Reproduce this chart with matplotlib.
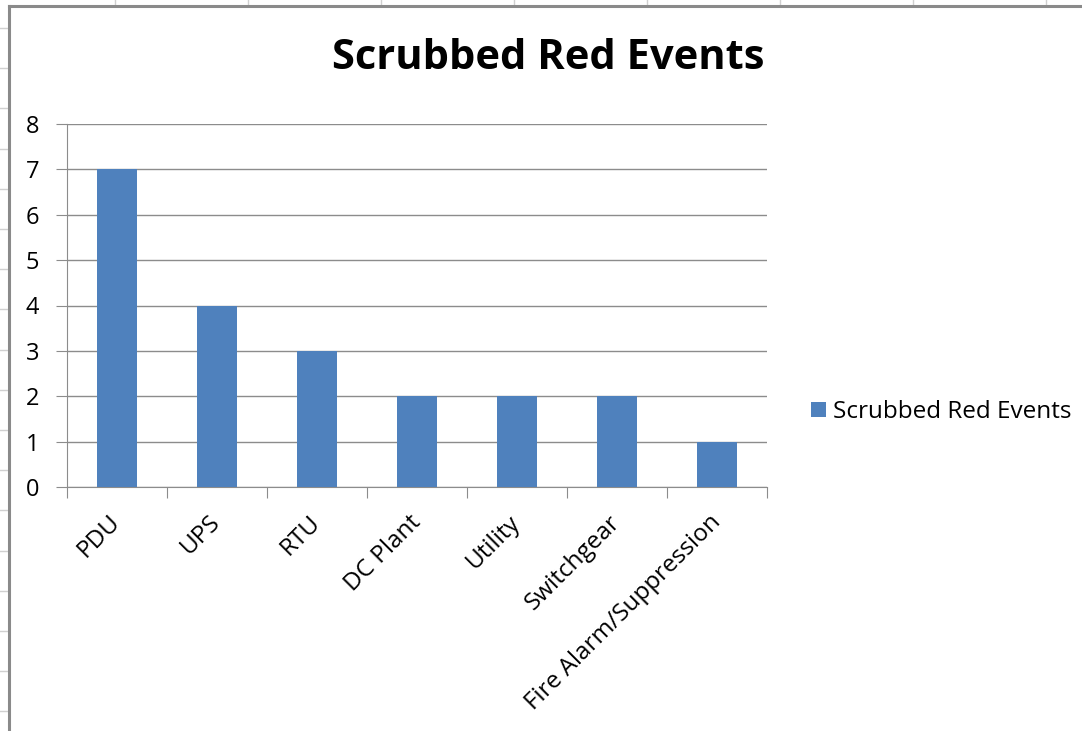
import matplotlib.pyplot as plt
import numpy as np
from matplotlib.lines import Line2D
from matplotlib.transforms import ScaledTranslation

plt.rcParams['font.family'] = ['Open Sans', 'DejaVu Sans']

categories = ['PDU', 'UPS', 'RTU', 'DC Plant', 'Utility', 'Switchgear',
              'Fire Alarm/Suppression']
events = [7, 4, 3, 2, 2, 2, 1]
series_name = 'Scrubbed Red Events'

W, H = 1082, 731
fig = plt.figure(figsize=(W / 100, H / 100), dpi=100)
fig.patch.set_facecolor('white')

# worksheet cell lines around the chart object
for x in [115, 248, 381, 514, 647, 780, 913, 1046]:
    fig.add_artist(Line2D([x / W, x / W], [1 - 0 / H, 1 - 6 / H],
                          color='#d0d0d0', lw=1))
for y in np.arange(28, 731, 40.2):
    fig.add_artist(Line2D([0, 8 / W], [1 - y / H, 1 - y / H],
                          color='#d0d0d0', lw=1))
# chart frame
fig.add_artist(Line2D([9 / W, 9 / W], [0, 1 - 6 / H], color='#8a8a8a', lw=2.2))
fig.add_artist(Line2D([9 / W, 1], [1 - 6 / H, 1 - 6 / H], color='#8a8a8a', lw=2.2))

ax = fig.add_axes([67 / W, 1 - 487 / H, 700 / W, 363 / H])
x = np.arange(len(categories))
ax.bar(x, events, width=0.4, color='#4F81BD', zorder=3, label=series_name)

ax.set_xlim(-0.5, len(categories) - 0.5)
ax.set_ylim(0, 8)
ax.set_yticks(range(0, 9))
ax.yaxis.grid(True, color='#8c8c8c', lw=1, zorder=0)
ax.set_axisbelow(True)

# boundary ticks between categories, labels at category centres
ax.set_xticks(np.arange(-0.5, len(categories)))
ax.set_xticklabels([])
ax.set_xticks(x, minor=True)
ax.set_xticklabels(categories, minor=True, rotation=45, ha='right',
                   va='center', rotation_mode='anchor', fontsize=17.5)
shift = ScaledTranslation(0.10, 0, fig.dpi_scale_trans)
for lbl in ax.get_xticklabels(minor=True):
    lbl.set_transform(lbl.get_transform() + shift)
ax.tick_params(axis='x', which='minor', length=0, pad=23)
ax.tick_params(axis='x', which='major', length=8, color='#8c8c8c')
ax.tick_params(axis='y', length=8, color='#8c8c8c', labelsize=17, pad=12)

for side in ['top', 'right']:
    ax.spines[side].set_visible(False)
for side in ['left', 'bottom']:
    ax.spines[side].set_color('#8c8c8c')

fig.text(548 / W, 1 - 69 / H, series_name, ha='center', va='baseline',
         fontsize=30, fontweight='bold')

ax.legend(loc='center left', bbox_to_anchor=(811 / W, 1 - 412 / H),
          bbox_transform=fig.transFigure, frameon=False, fontsize=17.5,
          handlelength=0.6, handleheight=0.6, handletextpad=0.3,
          borderaxespad=0, borderpad=0)

fig.savefig('out.png', dpi=100)
